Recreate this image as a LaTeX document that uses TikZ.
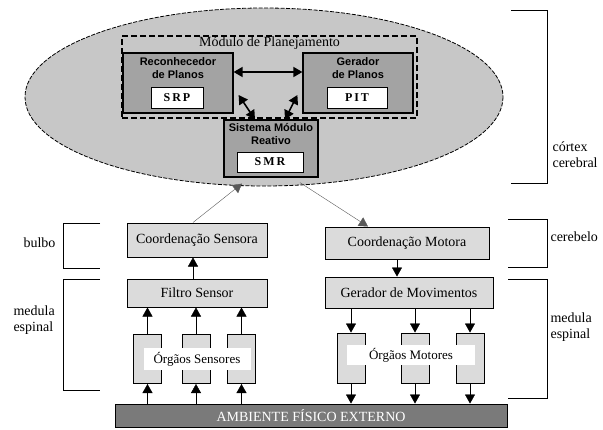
\documentclass[tikz,border=0pt]{standalone}
\usepackage{fontspec}
\setmainfont{Liberation Serif}
\newfontfamily\upfont{Liberation Sans}
\usepackage{xcolor}
\usepackage{tikz}
\usetikzlibrary{arrows.meta}
\definecolor{cortexgray}{gray}{0.78}
\definecolor{modgray}{gray}{0.64}
\definecolor{boxgray}{gray}{0.86}
\definecolor{envgray}{gray}{0.48}
\tikzset{
  tip/.style={-{Triangle[length=9pt,width=10pt]}},
  twotip/.style={{Triangle[length=9pt,width=10pt]}-{Triangle[length=9pt,width=10pt]}, line width=1.6pt},
  box/.style={draw, line width=1pt, fill=boxgray, font=\fontsize{14}{16}\selectfont},
  modbox/.style={draw, line width=1.2pt, fill=modgray, minimum width=110pt, minimum height=60pt},
  modlabel/.style={anchor=north, align=center, inner sep=2pt, font=\upfont\bfseries\fontsize{11}{12.5}\selectfont},
  codebox/.style={draw, line width=0.8pt, fill=white, minimum height=21pt, font=\bfseries\fontsize{12}{14}\selectfont},
  organ/.style={draw, line width=1pt, fill=boxgray, minimum width=28pt, minimum height=49pt},
  tag/.style={fill=white, font=\fontsize{13}{15}\selectfont},
  bracket/.style={line width=1pt},
  side/.style={align=left, anchor=west, font=\fontsize{14}{16}\selectfont}
}
\begin{document}
\begin{tikzpicture}[x=1pt, y=-1pt]
  \useasboundingbox (0,0) rectangle (603,429);
  \draw [dash pattern=on 4pt off 1.5pt, line width=0.8pt, fill=cortexgray] (264,97) ellipse (239 and 89);

  \node [draw, dash pattern=on 6pt off 3pt, line width=1.3pt, minimum width=295pt, minimum height=82pt] (mp) at (269.5,77) {};
  \node [anchor=north, inner sep=1pt, font=\fontsize{14}{16}\selectfont] at (mp.north) {Módulo de Planejamento};

  \node [modbox] (rec) at (178,83) {};
  \node [modlabel] at ([yshift=-3pt]rec.north) {Reconhecedor\\de Planos};
  \node [codebox, minimum width=52pt] (srp) at (177,97.5) {S\,R\,P};
  \node [modbox] (ger) at (358,83) {};
  \node [modlabel] at ([yshift=-3pt]ger.north) {Gerador\\de Planos};
  \node [codebox, minimum width=60pt] (pit) at (357,98) {P\,I\,T};
  \node [modbox, minimum width=94pt, minimum height=57pt] (smr) at (271,148.5) {};
  \node [modlabel] at ([yshift=-2pt]smr.north) {Sistema Módulo\\Reativo};
  \node [codebox, minimum width=66pt, minimum height=20pt] (smrc) at (270,162) {S\,M\,R};

  \draw [twotip] ([yshift=11pt]rec.east) -- ([yshift=11pt]ger.west);
  \draw [twotip] ([xshift=5pt,yshift=-12pt]rec.east) -- ([xshift=-16pt]smr.north);
  \draw [twotip] ([xshift=-5pt,yshift=-12pt]ger.west) -- ([xshift=14pt]smr.north);

  \node [box, minimum width=140pt, minimum height=34pt] (cs) at (197,240) {Coordenação Sensora};
  \node [box, minimum width=140pt, minimum height=28pt] (fs) at (197,293) {Filtro Sensor};
  \node [box, minimum width=164pt, minimum height=32pt] (cm) at (407,243) {Coordenação Motora};
  \node [box, minimum width=168pt, minimum height=31pt] (gm) at (409,292.5) {Gerador de Movimentos};
  \node [draw, line width=1pt, fill=envgray, text=white, minimum width=392pt, minimum height=23pt,
    font=\fontsize{14}{16}\selectfont] (amb) at (311,415.5) {AMBIENTE FÍSICO EXTERNO};

  \draw [tip, gray!70!black] ([xshift=-4pt]cs.north) -- ([xshift=-29pt,yshift=-6pt]smr.south);
  \draw [tip, gray!70!black] ([xshift=29pt,yshift=-5pt]smr.south) -- ([xshift=-39pt]cm.north);
  \draw [tip] ([xshift=-4pt]fs.north) -- ([xshift=-4pt]cs.south);
  \draw [tip] ([xshift=-10pt]cm.south) -- ([xshift=-12pt]gm.north);

  \foreach \n/\x in {s1/147.5, s2/196, s3/241.5} {
    \node [organ] (\n) at (\x,359) {};
    \draw [tip] (\n.north) -- (\n.north |- fs.south);
    \draw [tip] (\n.south |- amb.north) -- (\n.south);
  }
  \node [tag, minimum width=107pt, minimum height=22pt] (os) at (197,359) {Órgãos Sensores};

  \foreach \n/\x in {m1/351, m2/415, m3/470} {
    \node [organ, minimum height=50pt] (\n) at (\x,358) {};
    \draw [tip] (\n.north |- gm.south) -- (\n.north);
    \draw [tip] (\n.south) -- (\n.south |- amb.north);
  }
  \node [tag, minimum width=128pt, minimum height=20pt] (om) at (411,355) {Órgãos Motores};

  \draw [bracket] (100,223) -- (63,223) -- (63,268) -- (100,268);
  \draw [bracket] (100,279) -- (63,279) -- (63,390) -- (100,390);
  \draw [bracket] (511,10) -- (547,10) -- (547,183) -- (511,183);
  \draw [bracket] (508,219) -- (547,219) -- (547,267) -- (508,267);
  \draw [bracket] (508,279) -- (547,279) -- (547,398) -- (508,398);
  \node [side] at (20,243) {bulbo};
  \node [side] at (10,320) {medula\\espinal};
  \node [side] at (549,155) {córtex\\cerebral};
  \node [side] at (547,237) {cerebelo};
  \node [side] at (547,327) {medula\\espinal};
\end{tikzpicture}
\end{document}
